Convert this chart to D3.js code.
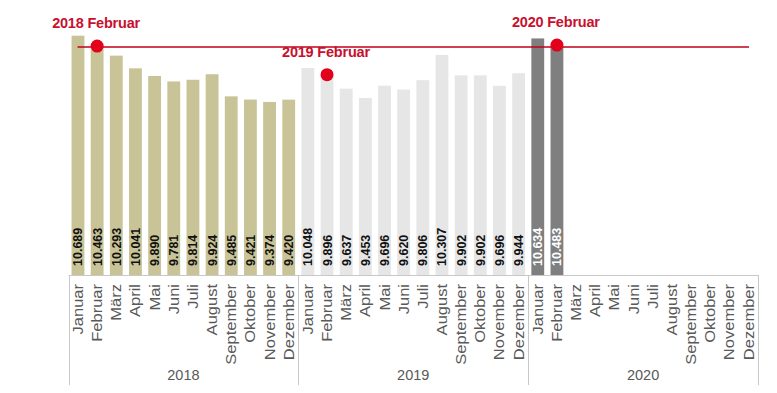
<!DOCTYPE html>
<html>
<head>
<meta charset="utf-8">
<script src="https://cdn.jsdelivr.net/npm/d3@7"></script>
<style>
  body { margin: 0; background: #fff; }
  text { font-family: "Liberation Sans", Arial, sans-serif; }
</style>
</head>
<body>
<div id="chart"></div>
<script>
// Data
const years = ["2018", "2019", "2020"];
const months = ["Januar", "Februar", "März", "April", "Mai", "Juni", "Juli", "August", "September", "Oktober", "November", "Dezember"];
const values2018 = [10689, 10463, 10293, 10041, 9890, 9781, 9814, 9924, 9485, 9421, 9374, 9420];
const values2019 = [10048, 9896, 9637, 9453, 9696, 9620, 9806, 10307, 9902, 9902, 9696, 9944];
const values2020 = [10634, 10483];
const highlights = [
  { year: "2018", month: "Februar", value: 10463 },
  { year: "2019", month: "Februar", value: 9896 },
  { year: "2020", month: "Februar", value: 10483 }
];
const referenceValue = 10463;

const barColors = { "2018": "#c9c497", "2019": "#e6e6e6", "2020": "#7f7f7f" };
const labelColors = { "2018": "#111", "2019": "#111", "2020": "#fff" };

const width = 777;
const height = 393;

// one row per bar
const rows = [];
[values2018, values2019, values2020].forEach((vals, yi) => {
  months.forEach((m, mi) => {
    rows.push({ key: years[yi] + "-" + m, year: years[yi], month: m, value: vals[mi] });
  });
});

const svg = d3.select("#chart")
    .append("svg")
    .attr("width", width)
    .attr("height", height);

const x = d3.scaleBand()
    .domain(rows.map(d => d.key))
    .range([68.5, 758])
    .paddingInner(0.33)
    .paddingOuter(0.16);

const y = d3.scaleLinear()
    .domain([5940, 11000])
    .range([275, 20]);

const fmt = v => d3.format(",")(v).replace(",", ".");

// Bars
const bars = rows.filter(d => d.value != null);
svg.selectAll("rect.bar")
    .data(bars)
    .enter()
    .append("rect")
    .attr("class", "bar")
    .attr("x", d => x(d.key))
    .attr("y", d => y(d.value))
    .attr("width", x.bandwidth())
    .attr("height", d => y.range()[0] - y(d.value))
    .attr("fill", d => barColors[d.year]);

// Value labels (rotated, inside bar bottom)
svg.selectAll("text.val")
    .data(bars)
    .enter()
    .append("text")
    .attr("class", "val")
    .attr("transform", d => `translate(${x(d.key) + x.bandwidth() / 2 + 4.5},266) rotate(-90)`)
    .attr("font-size", "12.5px")
    .attr("font-weight", "bold")
    .attr("fill", d => labelColors[d.year])
    .text(d => fmt(d.value));

// Category axis
const axisG = svg.append("g").attr("stroke", "#c8c8c8").attr("stroke-width", 1);
axisG.append("line")
    .attr("x1", x.range()[0]).attr("x2", x.range()[1])
    .attr("y1", 275.5).attr("y2", 275.5);

const groupW = (x.range()[1] - x.range()[0]) / years.length;
const bounds = d3.range(years.length + 1).map(i => x.range()[0] + i * groupW);
axisG.selectAll("line.sep")
    .data(bounds)
    .enter()
    .append("line")
    .attr("class", "sep")
    .attr("x1", d => Math.round(d) + 0.5).attr("x2", d => Math.round(d) + 0.5)
    .attr("y1", 275).attr("y2", 385);

// month labels are a bit stretched along the text in the original
svg.selectAll("text.month")
    .data(rows)
    .enter()
    .append("text")
    .attr("class", "month")
    .attr("transform", d => `translate(${x(d.key) + x.bandwidth() / 2 + 5},284) rotate(-90) scale(1.18,1)`)
    .attr("text-anchor", "end")
    .attr("font-size", "14px")
    .attr("fill", "#595959")
    .text(d => d.month);

svg.selectAll("text.year")
    .data(years)
    .enter()
    .append("text")
    .attr("class", "year")
    .attr("x", (d, i) => bounds[i] + groupW / 2)
    .attr("y", 380)
    .attr("text-anchor", "middle")
    .attr("font-size", "14.5px")
    .attr("fill", "#595959")
    .text(d => d);

// Reference line
const xc = d => x(d.year + "-" + d.month) + x.bandwidth() / 2;
svg.append("line")
    .attr("x1", x(rows[0].key) + 6)
    .attr("x2", 749)
    .attr("y1", y(referenceValue))
    .attr("y2", y(referenceValue))
    .attr("stroke", "#c00018")
    .attr("stroke-width", 1.5);

// Highlight dots
svg.selectAll("circle.hl")
    .data(highlights)
    .enter()
    .append("circle")
    .attr("class", "hl")
    .attr("cx", d => xc(d))
    .attr("cy", d => y(d.value) - 1)
    .attr("r", 6.5)
    .attr("fill", "#e2001a");

// Highlight labels
svg.selectAll("text.hl")
    .data(highlights)
    .enter()
    .append("text")
    .attr("class", "hl")
    .attr("x", d => xc(d) - 45)
    .attr("y", d => y(d.value) - 19)
    .attr("font-size", "14.5px")
    .attr("font-weight", "bold")
    .attr("letter-spacing", "-0.2px")
    .attr("fill", "#c8102e")
    .text(d => d.year + " " + d.month);
</script>
</body>
</html>
